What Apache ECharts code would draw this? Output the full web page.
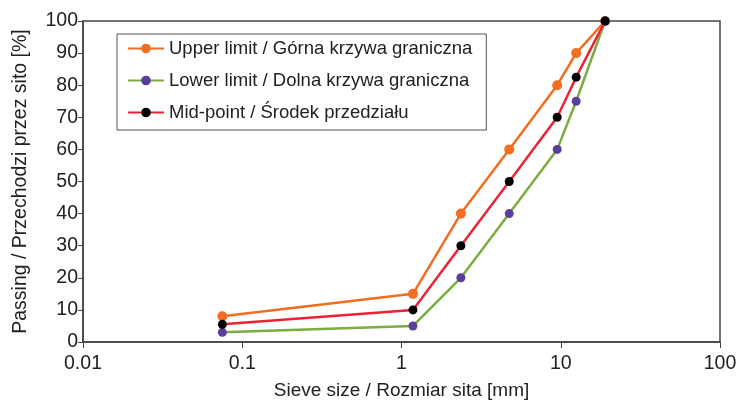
<!doctype html>
<html><head><meta charset="utf-8"></head>
<body style="margin:0;width:750px;height:406px;background:#fff">
<div id="container" style="width:750px;height:406px"></div>
<script src="https://cdn.jsdelivr.net/npm/echarts@6/dist/echarts.min.js"></script>
<script>
var sieveSizes = [0.075, 1.18, 2.36, 4.75, 9.5, 12.5, 19];
var upperLimit = [8, 15, 40, 60, 80, 90, 100];
var lowerLimit = [3, 5, 20, 40, 60, 75, 100];
var midPoint = [5.5, 10, 30, 50, 70, 82.5, 100];
var seriesNames = ['Upper limit / Górna krzywa graniczna', 'Lower limit / Dolna krzywa graniczna', 'Mid-point / Środek przedziału'];

function pairs(ys) {
    return sieveSizes.map(function (x, i) { return [x, ys[i]]; });
}

var font = 'Liberation Sans, Arial, sans-serif';
var chart = echarts.init(document.getElementById('container'));
chart.setOption({
    animation: false,
    textStyle: {fontFamily: font},
    grid: {left: 83, right: 30, top: 21, bottom: 64, show: true, borderColor: '#444', borderWidth: 1.5},
    legend: {
        orient: 'vertical', left: 117, top: 34, padding: [5, 14, 8, 10],
        borderColor: '#555', borderWidth: 1,
        itemWidth: 36, itemHeight: 12, itemGap: 13,
        textStyle: {fontSize: 18.5, color: '#222', fontFamily: font},
        data: seriesNames
    },
    xAxis: {
        type: 'log', logBase: 10, min: 0.01, max: 100,
        name: 'Sieve size / Rozmiar sita [mm]', nameLocation: 'middle', nameGap: 39,
        nameTextStyle: {fontSize: 19, color: '#222'},
        axisLine: {lineStyle: {color: '#444', width: 1.5}},
        axisTick: {inside: false, length: 6, lineStyle: {color: '#444'}},
        axisLabel: {fontSize: 19.5, color: '#222', margin: 12,
            formatter: function (v) { return String(+v.toPrecision(6)); }},
        splitLine: {show: false}, minorTick: {show: false}
    },
    yAxis: {
        type: 'value', min: 0, max: 100, interval: 10,
        name: 'Passing / Przechodzi przez sito [%]', nameLocation: 'middle', nameGap: 52,
        nameTextStyle: {fontSize: 19.5, color: '#222'},
        axisLine: {show: true, lineStyle: {color: '#444', width: 1.5}},
        axisTick: {show: true, length: 5, lineStyle: {color: '#444'}},
        axisLabel: {fontSize: 19.5, color: '#222', margin: 5},
        splitLine: {show: false}
    },
    series: [
        {name: seriesNames[0], type: 'line', data: pairs(upperLimit), symbol: 'circle', symbolSize: 10,
            lineStyle: {color: '#F26D21', width: 2.5}, itemStyle: {color: '#F26D21'}},
        {name: seriesNames[1], type: 'line', data: pairs(lowerLimit), symbol: 'circle', symbolSize: 9,
            lineStyle: {color: '#7AAE3E', width: 2.5}, itemStyle: {color: '#5A3E9E'}},
        {name: seriesNames[2], type: 'line', data: pairs(midPoint), symbol: 'circle', symbolSize: 9,
            lineStyle: {color: '#EE2233', width: 2.5}, itemStyle: {color: '#000'}}
    ]
});
</script>
</body></html>
